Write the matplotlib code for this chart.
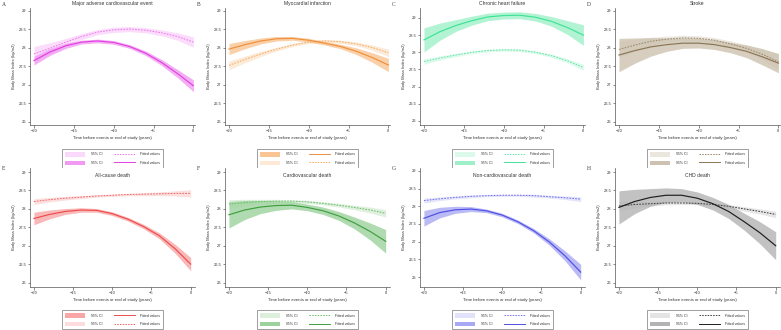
import matplotlib
matplotlib.use("Agg")
import matplotlib.pyplot as plt
from matplotlib.patches import Patch
from matplotlib.lines import Line2D
import numpy as np

plt.rcParams['font.family'] = ['Liberation Sans', 'DejaVu Sans']

years = [-20, -18, -16, -14, -12, -10, -8, -6, -4, -2, 0]

# A - Major adverse cardiovascular event
mace_solid = [27.65, 27.88, 28.05, 28.15, 28.18, 28.14, 28.03, 27.85, 27.6, 27.3, 26.97]
mace_solid_ci = [0.12, 0.09, 0.07, 0.05, 0.05, 0.05, 0.05, 0.06, 0.08, 0.11, 0.16]
mace_dash = [27.83, 27.98, 28.15, 28.3, 28.42, 28.48, 28.5, 28.47, 28.4, 28.3, 28.15]
mace_dash_ci = [0.2, 0.15, 0.1, 0.08, 0.07, 0.07, 0.07, 0.07, 0.08, 0.1, 0.14]

# B - Myocardial infarction
mi_solid = [27.96, 28.08, 28.18, 28.24, 28.25, 28.2, 28.12, 28.03, 27.9, 27.73, 27.53]
mi_solid_ci = [0.15, 0.11, 0.08, 0.06, 0.05, 0.05, 0.05, 0.06, 0.09, 0.13, 0.18]
mi_dash = [27.52, 27.68, 27.83, 27.96, 28.07, 28.15, 28.18, 28.16, 28.1, 28.0, 27.86]
mi_dash_ci = [0.12, 0.09, 0.07, 0.05, 0.04, 0.04, 0.04, 0.04, 0.05, 0.07, 0.1]

# C - Chronic heart failure
chf_solid = [28.36, 28.6, 28.78, 28.92, 29.03, 29.07, 29.08, 29.02, 28.9, 28.72, 28.5]
chf_solid_ci = [0.35, 0.25, 0.17, 0.13, 0.11, 0.1, 0.1, 0.11, 0.14, 0.2, 0.3]
chf_dash = [27.73, 27.83, 27.92, 28.0, 28.05, 28.07, 28.06, 28.0, 27.9, 27.75, 27.56]
chf_dash_ci = [0.08, 0.06, 0.05, 0.04, 0.04, 0.04, 0.04, 0.04, 0.05, 0.06, 0.09]

# D - Stroke
stroke_solid = [27.8, 27.92, 28.02, 28.08, 28.12, 28.12, 28.08, 28.0, 27.9, 27.75, 27.58]
stroke_solid_ci = [0.45, 0.34, 0.25, 0.18, 0.14, 0.13, 0.13, 0.14, 0.17, 0.22, 0.26]
stroke_dash = [27.95, 28.07, 28.17, 28.23, 28.26, 28.25, 28.2, 28.1, 27.98, 27.82, 27.62]
stroke_dash_ci = [0.22, 0.16, 0.11, 0.08, 0.07, 0.07, 0.07, 0.08, 0.1, 0.15, 0.22]

# E - All-cause death
acd_solid = [27.74, 27.85, 27.93, 27.97, 27.96, 27.87, 27.72, 27.52, 27.27, 26.92, 26.5]
acd_solid_ci = [0.17, 0.12, 0.08, 0.06, 0.05, 0.05, 0.05, 0.06, 0.08, 0.12, 0.18]
acd_dash = [28.2, 28.25, 28.29, 28.32, 28.35, 28.37, 28.39, 28.4, 28.41, 28.42, 28.42]
acd_dash_ci = [0.08, 0.06, 0.05, 0.04, 0.03, 0.03, 0.03, 0.04, 0.05, 0.07, 0.1]

# F - Cardiovascular death
cvd_solid = [27.84, 27.97, 28.05, 28.09, 28.1, 28.04, 27.95, 27.81, 27.62, 27.39, 27.12]
cvd_solid_ci = [0.36, 0.26, 0.18, 0.13, 0.1, 0.09, 0.1, 0.12, 0.16, 0.23, 0.32]
cvd_dash = [28.13, 28.17, 28.2, 28.21, 28.21, 28.19, 28.15, 28.1, 28.04, 27.97, 27.88]
cvd_dash_ci = [0.12, 0.09, 0.06, 0.05, 0.04, 0.04, 0.04, 0.05, 0.06, 0.08, 0.1]

# G - Non-cardiovascular death
ncvd_solid = [27.66, 27.82, 27.9, 27.92, 27.87, 27.75, 27.56, 27.31, 26.99, 26.6, 26.14]
ncvd_solid_ci = [0.22, 0.15, 0.1, 0.07, 0.05, 0.05, 0.05, 0.06, 0.09, 0.14, 0.22]
ncvd_dash = [28.16, 28.21, 28.25, 28.28, 28.3, 28.31, 28.31, 28.3, 28.27, 28.24, 28.2]
ncvd_dash_ci = [0.07, 0.05, 0.04, 0.04, 0.03, 0.03, 0.03, 0.04, 0.04, 0.05, 0.07]

# H - CHD death
chd_solid = [28.04, 28.2, 28.31, 28.37, 28.37, 28.29, 28.14, 27.93, 27.65, 27.35, 27.0]
chd_solid_ci = [0.45, 0.33, 0.24, 0.2, 0.18, 0.17, 0.17, 0.19, 0.23, 0.3, 0.38]
chd_dash = [28.08, 28.12, 28.14, 28.16, 28.16, 28.15, 28.12, 28.07, 28.0, 27.93, 27.85]
chd_dash_ci = [0.13, 0.09, 0.06, 0.05, 0.04, 0.04, 0.04, 0.05, 0.06, 0.07, 0.09]

titles = ["Major adverse cardiovascular event", "Myocardial infarction", "Chronic heart failure", "Stroke",
          "All-cause death", "Cardiovascular death", "Non-cardiovascular death", "CHD death"]
letters = ["A", "B", "C", "D", "E", "F", "G", "H"]

# (solid, solid ci, dashed, dashed ci, line colour, dark band, light line, light band, solid first in legend, ylim)
panels = [
    (mace_solid, mace_solid_ci, mace_dash, mace_dash_ci, '#e23fe2', '#f09bf0', '#ee7cee', '#fbd9fb', False, (25.91, 29.07)),
    (mi_solid, mi_solid_ci, mi_dash, mi_dash_ci, '#f0903c', '#f8c593', '#f5ad66', '#fde9d5', True, (25.91, 29.07)),
    (chf_solid, chf_solid_ci, chf_dash, chf_dash_ci, '#3fe396', '#9ff0c9', '#66e8aa', '#dcfaec', False, (25.88, 29.29)),
    (stroke_solid, stroke_solid_ci, stroke_dash, stroke_dash_ci, '#8a7656', '#cdc2af', '#9c8b6c', '#ebe6de', False, (25.91, 29.07)),
    (acd_solid, acd_solid_ci, acd_dash, acd_dash_ci, '#ef4b4b', '#f8a6a6', '#f26a6a', '#fcdcdc', True, (25.88, 29.11)),
    (cvd_solid, cvd_solid_ci, cvd_dash, cvd_dash_ci, '#3f9f3f', '#9dd29d', '#6cbf6c', '#dcefdc', False, (25.88, 29.11)),
    (ncvd_solid, ncvd_solid_ci, ncvd_dash, ncvd_dash_ci, '#4f4fe6', '#a9a9f3', '#7676ee', '#e2e2fb', False, (25.72, 29.08)),
    (chd_solid, chd_solid_ci, chd_dash, chd_dash_ci, '#1e1e1e', '#b3b3b3', '#444444', '#e4e4e4', False, (25.88, 29.11)),
]

W, H = 781, 330
fig = plt.figure(figsize=(W / 100, H / 100), dpi=100)
yt = [26, 26.5, 27, 27.5, 28, 28.5, 29]

for i, (s, sci, d, dci, c1, b1, c2, b2, solid_first, ylim) in enumerate(panels):
    row, col = divmod(i, 4)
    left = 30 + 195 * col
    if row == 0:
        top, bot = 8, 125
    else:
        top, bot = 168, 287
    ax = fig.add_axes([left / W, 1 - bot / H, 165 / W, (bot - top) / H])
    x = np.array(years)
    s, sci, d, dci = map(np.array, (s, sci, d, dci))
    ax.fill_between(x, d - dci, d + dci, color=b2, lw=0, alpha=0.9)
    ax.fill_between(x, s - sci, s + sci, color=b1, lw=0, alpha=0.8)
    ax.plot(x, d, color=c2, lw=0.75, dashes=(1.6, 1.2))
    ax.plot(x, s, color=c1, lw=0.85)
    ax.set_ylim(*ylim)
    ax.set_xlim(-20.5, 0.2 if row == 0 else 0.55)
    ax.set_yticks(yt)
    ax.set_yticklabels(["%g" % v for v in yt])
    ax.set_xticks([-20, -15, -10, -5, 0])
    for sp in ['top', 'right']:
        ax.spines[sp].set_visible(False)
    for sp in ['left', 'bottom']:
        ax.spines[sp].set_linewidth(0.5)
        ax.spines[sp].set_color('#555555')
    ax.tick_params(labelsize=2.9, length=1.8, width=0.4, pad=1, colors='#333333')
    ax.set_ylabel("Body Mass Index (kg/m2)", fontsize=2.9, labelpad=2, color='#333333')
    ax.set_xlabel("Time before events or end of study (years)", fontsize=3.1, labelpad=2.5, color='#333333')
    if row == 0:
        ax.set_title(titles[i], fontsize=3.6, pad=2, color='#333333')
    else:
        ax.text(0.5, 0.955, titles[i], transform=ax.transAxes, ha='center', va='top',
                fontsize=3.6, color='#333333')

    hs = [Patch(facecolor=b1, edgecolor='none'), Line2D([], [], color=c1, lw=0.7)]
    hd = [Patch(facecolor=b2, edgecolor='none'), Line2D([], [], color=c2, lw=0.7, dashes=(1.6, 1.2))]
    first, second = (hs, hd) if solid_first else (hd, hs)
    leg = ax.legend([first[0], second[0], first[1], second[1]],
                    ["95% CI", "95% CI", "Fitted values", "Fitted values"],
                    ncol=2, loc='upper center', bbox_to_anchor=(0.5, -0.19 if row == 0 else -0.18),
                    fontsize=2.5, frameon=True, fancybox=False, edgecolor='#555555',
                    handlelength=6.0, handleheight=1.6, labelspacing=1.2, columnspacing=3.5,
                    handletextpad=1.5, borderpad=0.9)
    leg.get_frame().set_linewidth(0.5)
    for t in leg.get_texts():
        t.set_color('#333333')

    fig.text((2 + 195 * col) / W, 1 - (4 if row == 0 else 169) / H, letters[i],
             family='Liberation Serif', fontsize=4, va='center', color='#333333')

fig.savefig("out.png", dpi=100)
